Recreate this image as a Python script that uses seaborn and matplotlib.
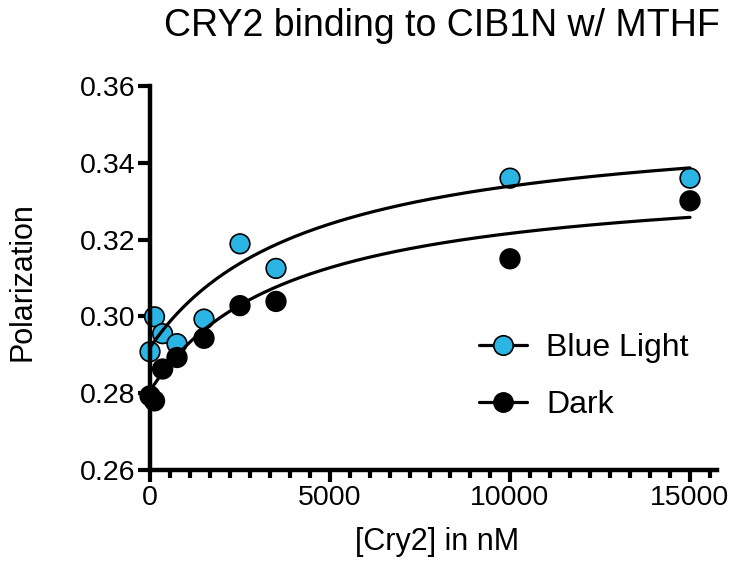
import numpy as np
import pandas as pd
import matplotlib
matplotlib.use('Agg')
import matplotlib.pyplot as plt
from matplotlib.ticker import MultipleLocator, AutoMinorLocator, FormatStrFormatter
from matplotlib.lines import Line2D
import seaborn as sns

# Data
conc_nM = [0, 125, 350, 750, 1500, 2500, 3500, 10000, 15000]
blue_light = [0.2908, 0.2999, 0.2955, 0.2929, 0.2993, 0.3189, 0.3125, 0.3360, 0.3360]
dark = [0.2793, 0.2780, 0.2863, 0.2893, 0.2943, 0.3028, 0.3039, 0.3150, 0.3301]

# One-site binding fit parameters (y0, Bmax, Kd) estimated from the drawn curves
fit_blue = (0.2919, 0.0605, 4400)
fit_dark = (0.2806, 0.0568, 3850)

blue = '#2BB5E5'

sns.set_style('ticks')
plt.rcParams['font.family'] = ['Liberation Sans', 'DejaVu Sans']
plt.rcParams['text.color'] = 'black'
plt.rcParams['axes.labelcolor'] = 'black'
plt.rcParams['axes.edgecolor'] = 'black'
plt.rcParams['xtick.color'] = 'black'
plt.rcParams['ytick.color'] = 'black'

points = pd.DataFrame({
    'conc': conc_nM * 2,
    'pol': blue_light + dark,
    'condition': ['Blue Light'] * len(conc_nM) + ['Dark'] * len(conc_nM),
})

xs = np.linspace(0, 15000, 300)
fits = []
for name, (y0, bmax, kd) in [('Blue Light', fit_blue), ('Dark', fit_dark)]:
    fits.append(pd.DataFrame({'conc': xs, 'pol': y0 + bmax * xs / (kd + xs), 'condition': name}))
fits = pd.concat(fits)

fig, ax = plt.subplots(figsize=(7.33, 5.73), dpi=100)
fig.subplots_adjust(left=150 / 733, right=717 / 733, bottom=1 - 470 / 573, top=1 - 86 / 573)

sns.scatterplot(data=points, x='conc', y='pol', hue='condition',
                palette={'Blue Light': blue, 'Dark': 'black'},
                s=200, edgecolor='black', linewidth=1.2, legend=False,
                clip_on=False, zorder=2, ax=ax)
sns.lineplot(data=fits, x='conc', y='pol', hue='condition',
             palette={'Blue Light': 'black', 'Dark': 'black'},
             linewidth=2.3, legend=False, zorder=3, ax=ax)

ax.set_xlim(0, 15750)
ax.set_ylim(0.26, 0.36)
ax.xaxis.set_major_locator(MultipleLocator(5000))
ax.xaxis.set_minor_locator(AutoMinorLocator(9))
ax.yaxis.set_major_locator(MultipleLocator(0.02))
ax.yaxis.set_major_formatter(FormatStrFormatter('%.2f'))

sns.despine(ax=ax)
for side in ['left', 'bottom']:
    ax.spines[side].set_linewidth(3.2)
    ax.spines[side].set_capstyle('projecting')
ax.tick_params(axis='both', which='major', length=8.5, width=3, labelsize=20.5, pad=2)
ax.tick_params(axis='x', which='minor', length=5.5, width=3)

ax.set_xlabel('[Cry2] in nM', fontsize=22)
ax.set_ylabel('Polarization', fontsize=22)
ax.xaxis.set_label_coords((437 - 150) / 567, (470 - 527) / 384)
ax.yaxis.set_label_coords((37 - 150) / 567, 0.49)
fig.text(442 / 733, 1 - 36 / 573, 'CRY2 binding to CIB1N w/ MTHF', fontsize=27,
         ha='center', va='baseline')

handles = [
    Line2D([0], [0], color='black', lw=2.3, marker='o', markersize=14,
           markerfacecolor=blue, markeredgecolor='black', markeredgewidth=1.2),
    Line2D([0], [0], color='black', lw=2.3, marker='o', markersize=14,
           markerfacecolor='black', markeredgecolor='black'),
]
ax.legend(handles, ['Blue Light', 'Dark'], loc='upper left',
          bbox_to_anchor=(479 / 733, 1 - 333 / 573), bbox_transform=fig.transFigure,
          frameon=False, fontsize=23, handlelength=1.5, handletextpad=0.6,
          labelspacing=0.85, borderpad=0, borderaxespad=0)

fig.savefig('out.png', dpi=100)
